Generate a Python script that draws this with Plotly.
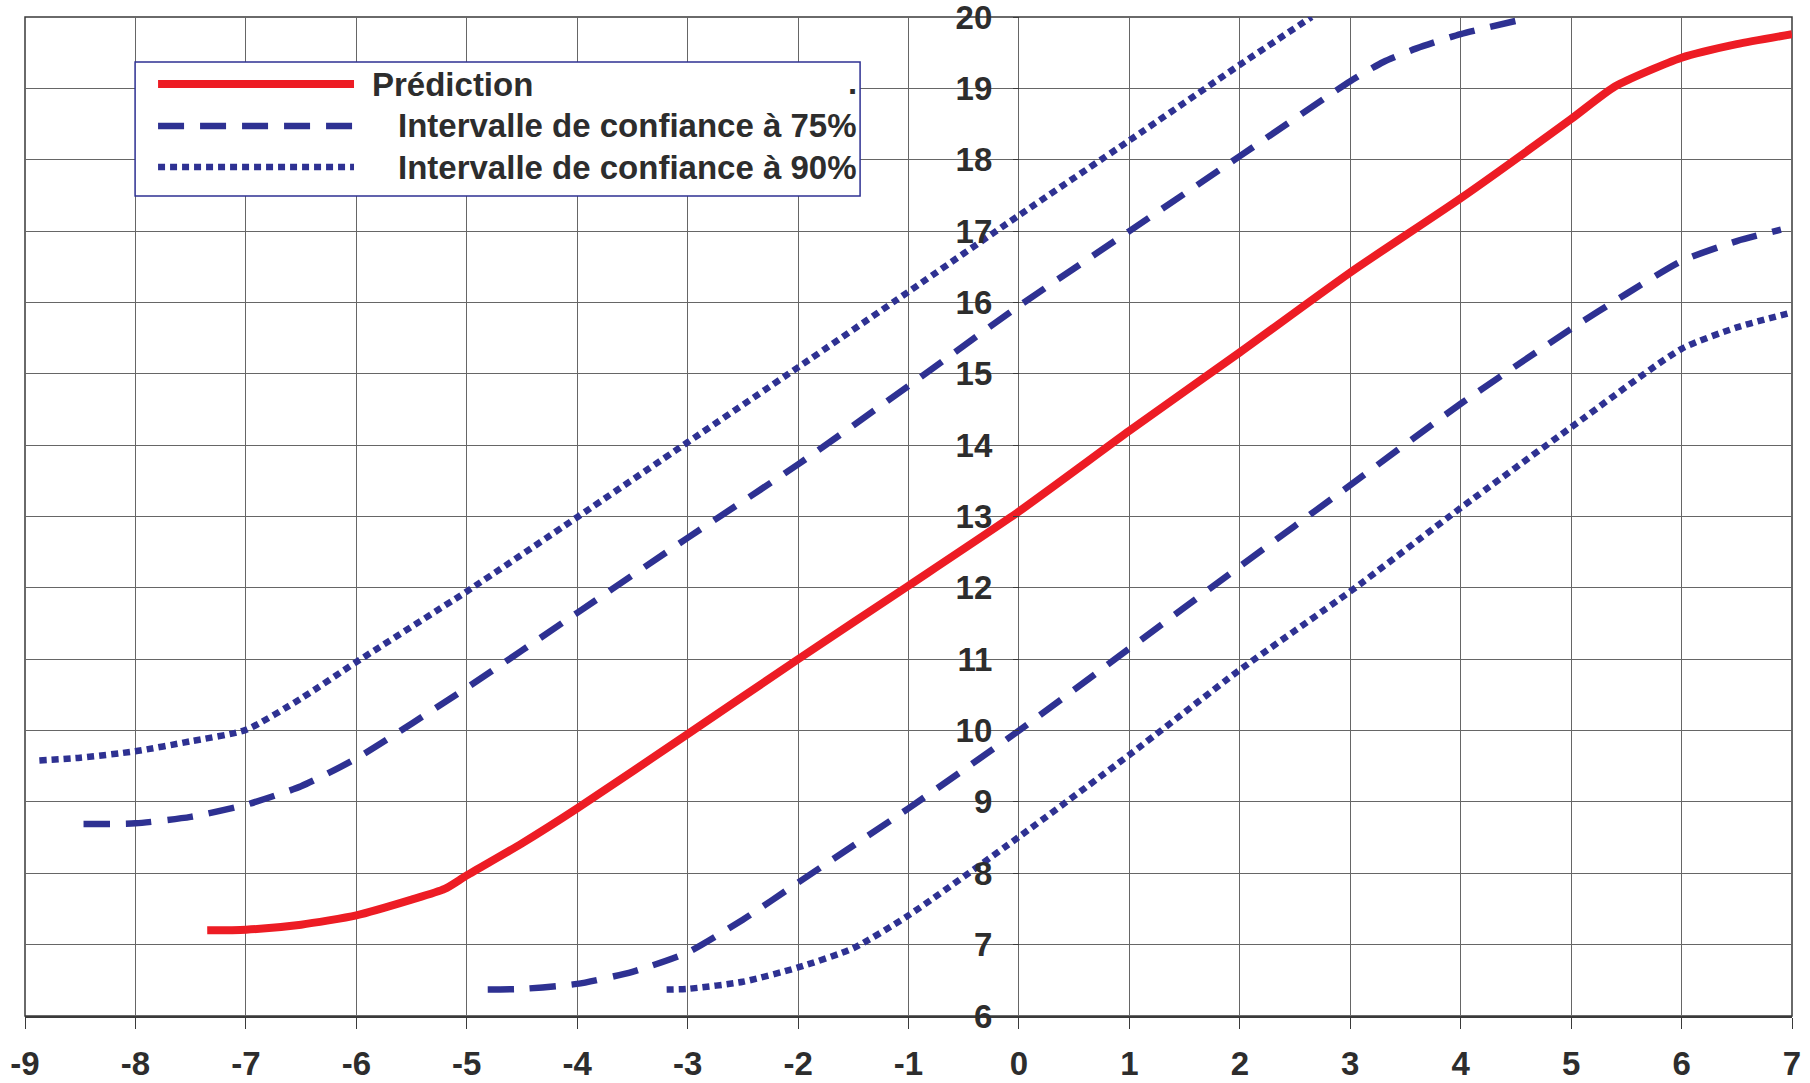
import plotly.graph_objects as go

# ---- data ----
pred_x = [-7.35, -7.0, -6.5, -6.0, -5.5, -5.2, -5.0, -4.5, -4.0, -3.0, -2.0, -1.0, 0.0, 1.0, 2.0, 3.0, 4.0, 5.0, 5.4, 6.0, 6.5, 7.0]
pred_y = [7.20, 7.21, 7.28, 7.41, 7.63, 7.78, 7.97, 8.42, 8.91, 9.95, 11.0, 12.03, 13.07, 14.2, 15.3, 16.42, 17.46, 18.57, 19.03, 19.43, 19.62, 19.76]

up75_x = [-8.47, -8.0, -7.5, -7.0, -6.5, -6.0, -5.0, -4.0, -3.0, -2.0, -1.0, 0.0, 1.0, 2.0, 3.0, 3.3, 3.6, 4.0, 4.57]
up75_y = [8.69, 8.70, 8.79, 8.96, 9.22, 9.61, 10.6, 11.65, 12.7, 13.73, 14.83, 15.95, 17.0, 18.05, 19.1, 19.37, 19.56, 19.76, 19.97]

up90_x = [-8.87, -8.5, -8.0, -7.5, -7.0, -6.5, -6.0, -5.0, -4.0, -3.0, -2.0, -1.0, 0.0, 1.0, 2.0, 2.65]
up90_y = [9.58, 9.62, 9.71, 9.85, 10.01, 10.45, 10.96, 11.95, 12.99, 14.04, 15.09, 16.15, 17.22, 18.27, 19.33, 20.0]

lo75_x = [-4.81, -4.5, -4.0, -3.5, -3.0, -2.5, -2.0, -1.0, 0.0, 1.0, 2.0, 3.0, 4.0, 5.0, 5.5, 6.0, 6.5, 6.9]
lo75_y = [6.37, 6.38, 6.45, 6.62, 6.89, 7.35, 7.87, 8.91, 10.0, 11.15, 12.3, 13.44, 14.58, 15.63, 16.12, 16.58, 16.86, 17.02]

lo90_x = [-3.19, -3.0, -2.5, -2.0, -1.5, -1.0, 0.0, 1.0, 2.0, 3.0, 4.0, 5.0, 6.0, 6.5, 7.0]
lo90_y = [6.37, 6.38, 6.48, 6.68, 6.95, 7.41, 8.51, 9.66, 10.85, 11.95, 13.12, 14.25, 15.35, 15.65, 15.86]

x_ticks = list(range(-9, 8))
y_ticks = list(range(6, 21))

names = ["Prédiction", "Intervalle de confiance à 75%", "Intervalle de confiance à 90%"]

RED = "#ed1c24"
BLUE = "#2e3192"
TXT = "#2d2d2d"
GRID = "#666666"
DASH = "26px,16px"
DOT = "7px,5px"
FONT = "Liberation Sans, Arial, Helvetica, sans-serif"
WR, WB = 8, 6.5

fig = go.Figure()
common = dict(mode="lines", line_shape="spline", showlegend=False, hoverinfo="skip")
fig.add_trace(go.Scatter(x=up90_x, y=up90_y, line=dict(color=BLUE, width=WB, dash=DOT, smoothing=0.6), **common))
fig.add_trace(go.Scatter(x=lo90_x, y=lo90_y, line=dict(color=BLUE, width=WB, dash=DOT, smoothing=0.6), **common))
fig.add_trace(go.Scatter(x=up75_x, y=up75_y, line=dict(color=BLUE, width=WB, dash=DASH, smoothing=0.6), **common))
fig.add_trace(go.Scatter(x=lo75_x, y=lo75_y, line=dict(color=BLUE, width=WB, dash=DASH, smoothing=0.6), **common))
fig.add_trace(go.Scatter(x=pred_x, y=pred_y, line=dict(color=RED, width=WR, smoothing=0.6), **common))

# ---- frame ----
fig.add_shape(type="rect", xref="paper", yref="paper", x0=0, x1=1, y0=0, y1=1,
              line=dict(color="#3a3a3a", width=1.5), layer="below")

# ---- manual legend (long line samples as in the reference) ----
lx0, lx1, ly0, ly1 = 0.0623, 0.4726, 0.8208, 0.955
fig.add_shape(type="rect", xref="paper", yref="paper", x0=lx0, x1=lx1, y0=ly0, y1=ly1,
              line=dict(color=BLUE, width=1.5), fillcolor="white", layer="above")
rows = [0.9329, 0.8909, 0.8498]
styles = [dict(color=RED, width=WR), dict(color=BLUE, width=WB, dash=DASH), dict(color=BLUE, width=WB, dash=DOT)]
text_x = [0.1952, 0.21, 0.21]
for ry, st, nm, tx in zip(rows, styles, names, text_x):
    fig.add_shape(type="line", xref="paper", yref="paper", x0=0.0753, x1=0.1862, y0=ry, y1=ry,
                  line=st, layer="above")
    fig.add_annotation(xref="paper", yref="paper", x=tx, y=ry, text=nm, showarrow=False,
                       xanchor="left", yanchor="middle",
                       font=dict(family=FONT, size=33, color=TXT, weight="bold"))
fig.add_annotation(xref="paper", yref="paper", x=0.4645, y=rows[0] + 0.002, text=".", showarrow=False,
                   xanchor="left", yanchor="middle",
                   font=dict(family=FONT, size=33, color=TXT, weight="bold"))

fig.update_layout(
    width=1810, height=1083,
    margin=dict(l=25, r=18, t=17, b=67),
    paper_bgcolor="white", plot_bgcolor="white",
    font=dict(family=FONT, size=33, color=TXT, weight="bold"),
    xaxis=dict(range=[-9, 7], tickvals=x_ticks, ticktext=[str(v) for v in x_ticks],
               automargin=False, ticklabeloverflow="allow",
               showgrid=True, gridcolor=GRID, gridwidth=1, zeroline=False,
               showline=True, linecolor="#3a3a3a", linewidth=1.5,
               ticks="outside", ticklen=11, tickcolor="#3a3a3a", ticklabelstandoff=7,
               tickfont=dict(family=FONT, size=33, color=TXT, weight="bold")),
    yaxis=dict(range=[6, 20], tickvals=y_ticks, ticktext=[str(v) for v in y_ticks],
               anchor="free", position=9 / 16, automargin=False, ticklabeloverflow="allow",
               showgrid=True, gridcolor=GRID, gridwidth=1, zeroline=False,
               showline=False, ticks="outside", ticklen=6, tickcolor="#3a3a3a",
               ticklabelstandoff=14,
               tickfont=dict(family=FONT, size=33, color=TXT, weight="bold")),
)

fig.write_html("out.html", config={"displayModeBar": False},
               post_script="document.body.style.margin='0';document.body.style.overflow='hidden';")
